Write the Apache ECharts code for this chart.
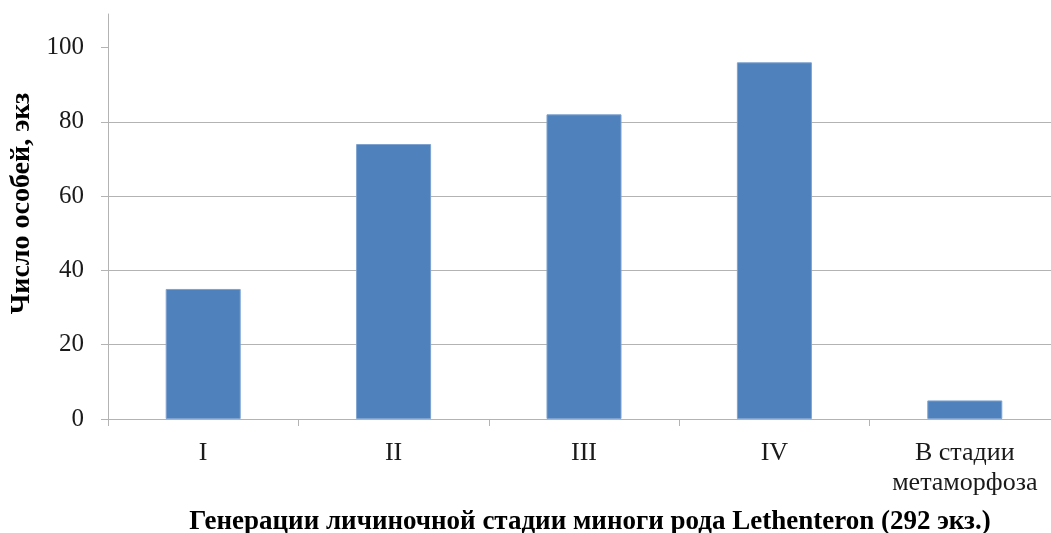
<!DOCTYPE html>
<html>
<head>
<meta charset="utf-8">
<script src="https://cdn.jsdelivr.net/npm/echarts@6/dist/echarts.min.js"></script>
<style>
html,body{margin:0;padding:0;background:#fff;}
#chart{width:1051px;height:533px;}
</style>
</head>
<body>
<div id="chart"></div>
<script>
const categories = ['I', 'II', 'III', 'IV', 'В стадии\nметаморфоза'];
const counts = [35, 74, 82, 96, 5];
const yTicks = [0, 20, 40, 60, 80, 100];
const xTitle = 'Генерации личиночной стадии миноги рода Lethenteron (292 экз.)';
const yTitle = 'Число особей, экз';

const font = '"Liberation Serif", "Times New Roman", serif';
const chart = echarts.init(document.getElementById('chart'));
chart.setOption({
  animation: false,
  grid: { left: 108, top: 14, height: 405, width: 952, containLabel: false, outerBoundsMode: 'none' },
  xAxis: {
    type: 'category',
    data: categories,
    boundaryGap: true,
    axisLine: { lineStyle: { color: '#b3b3b3', width: 1 } },
    axisTick: { show: true, length: 7, interval: 0, lineStyle: { color: '#b3b3b3' } },
    axisLabel: { color: '#1a1a1a', fontFamily: font, fontSize: 26, margin: 19, lineHeight: 30, interval: 0 },
    name: xTitle,
    nameLocation: 'middle',
    nameGap: 90,
    nameTextStyle: { color: '#000', fontFamily: font, fontSize: 27, fontWeight: 'bold', padding: [0, 0, 0, 12] }
  },
  yAxis: {
    type: 'value',
    min: 0,
    max: 109,
    interval: 20,
    axisLine: { show: true, lineStyle: { color: '#b3b3b3', width: 1 } },
    axisTick: { show: true, length: 7, lineStyle: { color: '#b3b3b3' }, customValues: yTicks },
    axisLabel: { color: '#1a1a1a', fontFamily: font, fontSize: 25, margin: 24, customValues: yTicks },
    splitLine: { show: true, showMaxLine: false, lineStyle: { color: '#b3b3b3', width: 1 } },
    name: yTitle,
    nameLocation: 'middle',
    nameRotate: 90,
    nameGap: 69,
    nameTextStyle: { color: '#000', fontFamily: font, fontSize: 28, fontWeight: 'bold', padding: [0, 0, 0, 26] }
  },
  series: [{
    type: 'bar',
    data: counts,
    barWidth: '39.4%',
    itemStyle: { color: '#4f81bd', borderColor: '#7ea3d1', borderWidth: 1 }
  }]
});
</script>
</body>
</html>
